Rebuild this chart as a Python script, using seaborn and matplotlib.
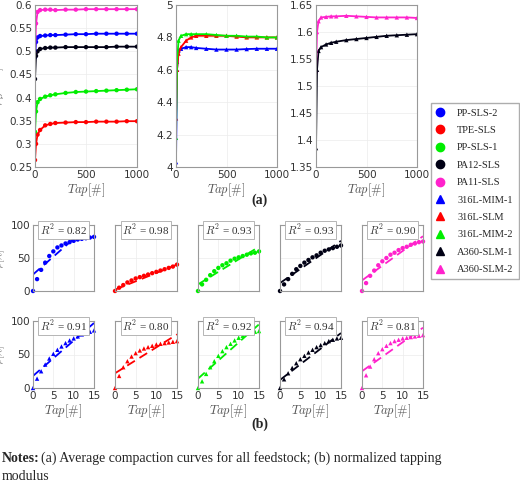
import numpy as np
import matplotlib
matplotlib.use("Agg")
import matplotlib.pyplot as plt
from matplotlib.lines import Line2D
import seaborn as sns

sns.set_style("whitegrid")
plt.rcParams["font.family"] = ["DejaVu Sans"]
plt.rcParams["mathtext.fontset"] = "cm"

BLUE, RED, GREEN, BLACK, PINK = "#0000ff", "#ff0000", "#00ee00", "#000014", "#ff22cc"

# ---------- (a) compaction curves ----------
taps = [0, 10, 25, 50, 100, 150, 200, 300, 400, 500, 600, 700, 800, 900, 1000]
pp_sls_2 = [0.487, 0.52, 0.53, 0.533, 0.534, 0.535, 0.535, 0.536, 0.537, 0.537, 0.538, 0.538, 0.538, 0.538, 0.538]
tpe_sls = [0.265, 0.30, 0.32, 0.33, 0.34, 0.343, 0.345, 0.346, 0.347, 0.347, 0.348, 0.348, 0.348, 0.349, 0.349]
pp_sls_1 = [0.326, 0.37, 0.39, 0.397, 0.402, 0.405, 0.407, 0.410, 0.412, 0.413, 0.414, 0.415, 0.416, 0.417, 0.418]
pa12_sls = [0.44, 0.49, 0.50, 0.505, 0.507, 0.508, 0.508, 0.509, 0.509, 0.509, 0.509, 0.509, 0.51, 0.51, 0.51]
pa11_sls = [0.495, 0.56, 0.585, 0.589, 0.59, 0.59, 0.589, 0.59, 0.59, 0.591, 0.591, 0.591, 0.591, 0.591, 0.591]
mim_1 = [4.03, 4.6, 4.72, 4.73, 4.74, 4.74, 4.735, 4.73, 4.725, 4.725, 4.725, 4.728, 4.73, 4.73, 4.73]
slm_316 = [4.30, 4.6, 4.7, 4.74, 4.78, 4.80, 4.81, 4.81, 4.81, 4.81, 4.805, 4.80, 4.80, 4.80, 4.80]
mim_2 = [4.18, 4.65, 4.78, 4.81, 4.82, 4.82, 4.82, 4.82, 4.815, 4.81, 4.81, 4.805, 4.805, 4.80, 4.80]
a360_1 = [1.385, 1.53, 1.565, 1.572, 1.577, 1.58, 1.582, 1.585, 1.587, 1.589, 1.591, 1.593, 1.594, 1.595, 1.596]
a360_2 = [1.528, 1.60, 1.62, 1.627, 1.628, 1.629, 1.629, 1.63, 1.629, 1.628, 1.627, 1.627, 1.627, 1.627, 1.626]

labels = ["PP-SLS-2", "TPE-SLS", "PP-SLS-1", "PA12-SLS", "PA11-SLS",
          "316L-MIM-1", "316L-SLM", "316L-MIM-2", "A360-SLM-1", "A360-SLM-2"]
colors = [BLUE, RED, GREEN, BLACK, PINK, BLUE, RED, GREEN, BLACK, PINK]
markers = ["o"] * 5 + ["^"] * 5

# ---------- (b) normalized tapping modulus ----------
nt = list(range(16))
norm = [
    [0, 18, 32, 43, 53, 60, 66, 69, 72, 74, 76, 78, 79, 80, 81, 82],
    [0, 5, 9, 13, 16, 19, 21, 23, 25, 27, 29, 31, 33, 35, 37, 40],
    [0, 10, 17, 24, 30, 35, 39, 42, 46, 49, 51, 53, 55, 57, 58, 60],
    [0, 10, 18, 26, 33, 38, 43, 47, 51, 54, 58, 61, 63, 65, 67, 69],
    [0, 12, 23, 31, 39, 45, 50, 55, 58, 62, 65, 67, 70, 72, 74, 75],
    [0, 14, 25, 35, 44, 51, 57, 62, 67, 71, 74, 77, 80, 82, 84, 86],
    [0, 18, 31, 40, 47, 52, 56, 59, 61, 63, 65, 66, 67, 68, 69, 70],
    [0, 10, 21, 31, 40, 48, 55, 61, 66, 71, 75, 78, 81, 83, 84, 85],
    [0, 13, 22, 30, 37, 43, 48, 53, 57, 61, 64, 67, 70, 72, 74, 75],
    [0, 19, 32, 43, 52, 58, 63, 67, 70, 72, 74, 75, 76, 77, 78, 79],
]
fit_start = [25, 2, 10, 12, 16, 18, 22, 14, 12, 25]
fit_end = [106, 40, 67, 76, 83, 97, 80, 95, 82, 90]
r2 = ["0.82", "0.98", "0.93", "0.93", "0.90", "0.91", "0.80", "0.92", "0.94", "0.81"]

W, H = 520, 483
fig = plt.figure(figsize=(W / 100, H / 100), dpi=100)

def px(x0, y0, x1, y1):
    return [x0 / W, 1 - y1 / H, (x1 - x0) / W, (y1 - y0) / H]

def style(ax, fs=7.5):
    ax.grid(True, color="#ececec", lw=0.5)
    for s in ax.spines.values():
        s.set_color("#999999")
        s.set_linewidth(0.8)
    ax.tick_params(labelsize=fs, colors="#333333", length=0, pad=2)

top_series = [[0, 1, 2, 3, 4], [5, 6, 7], [8, 9]]
all_top = [pp_sls_2, tpe_sls, pp_sls_1, pa12_sls, pa11_sls, mim_1, slm_316, mim_2, a360_1, a360_2]
top_ylim = [(0.25, 0.6), (4.0, 5.0), (1.35, 1.65)]
top_ticks = [np.arange(0.25, 0.61, 0.05), np.arange(4.0, 5.01, 0.2), np.arange(1.35, 1.66, 0.05)]
top_x = [(35, 137), (176, 277), (316, 417)]
for k, idx in enumerate(top_series):
    ax = fig.add_axes(px(top_x[k][0], 5, top_x[k][1], 167))
    for i in idx:
        sns.lineplot(x=taps, y=all_top[i], color=colors[i], lw=1.3, ax=ax)
        sns.scatterplot(x=taps, y=all_top[i], color=colors[i], marker=markers[i],
                        s=10, edgecolor="none", ax=ax)
    ax.set_xlim(0, 1000)
    ax.set_ylim(*top_ylim[k])
    ax.set_yticks(top_ticks[k])
    ax.set_yticklabels([f"{v:g}" for v in top_ticks[k]])
    ax.set_xticks([0, 500, 1000])
    style(ax)
    ax.set_xlabel(r"$Tap[\#]$", fontsize=9, color="#555555", labelpad=1)
    if k == 0:
        ax.set_ylabel(r"$\rho[gcm^{-3}]$", fontsize=7, color="#555555")
        ax.yaxis.set_label_coords(-0.27, 0.5)

bx = [(33, 94), (115, 177), (198, 259), (280, 341), (362, 423)]
by = [(225, 291), (321, 388)]
for i in range(10):
    r, c = divmod(i, 5)
    ax = fig.add_axes(px(bx[c][0], by[r][0], bx[c][1], by[r][1]))
    sns.lineplot(x=[0, 15], y=[fit_start[i], fit_end[i]], color=colors[i], lw=1.3, ax=ax)
    ax.lines[-1].set_linestyle((0, (5, 3)))
    sns.scatterplot(x=nt, y=norm[i], color=colors[i], marker=markers[i], s=10,
                    edgecolor="none", ax=ax, clip_on=False)
    ax.set_xlim(0, 15)
    ax.set_ylim(0, 100)
    ax.set_xticks([0, 5, 10, 15])
    ax.set_yticks([0, 50, 100])
    style(ax)
    if c == 0:
        ax.set_ylabel(r"$\tilde{\rho}[\%]$", fontsize=7, color="#555555")
        ax.yaxis.set_label_coords(-0.42, 0.5)
    else:
        ax.set_yticklabels([])
    if r == 1:
        ax.set_xlabel(r"$Tap[\#]$", fontsize=9, color="#555555", labelpad=1)
    else:
        ax.set_xticklabels([])
    ax.text(0.5, 0.93, r"$R^2$ = " + r2[i], transform=ax.transAxes, ha="center", va="center",
            fontsize=8, color="#333333", family="Liberation Serif",
            bbox=dict(facecolor="white", edgecolor="#aaaaaa", lw=0.6, pad=1.2))

handles = [Line2D([], [], ls="", marker=markers[i], color=colors[i], markersize=6) for i in range(10)]
fig.legend(handles, labels, loc="upper left", bbox_to_anchor=(431 / W, 1 - 103 / H),
           prop={"family": "Liberation Serif", "size": 7.5}, frameon=True, fancybox=False,
           edgecolor="#999999", labelspacing=0.78, handletextpad=1.2, borderpad=0.5,
           handlelength=0.8, borderaxespad=0)

fig.text(260 / W, 1 - 200 / H, "(a)", ha="center", va="center", fontsize=10,
         fontweight="bold", family="Liberation Serif")
fig.text(260 / W, 1 - 424 / H, "(b)", ha="center", va="center", fontsize=10,
         fontweight="bold", family="Liberation Serif")
fig.text(2 / W, 1 - 458 / H, "Notes:", ha="left", va="center", fontsize=10,
         fontweight="bold", family="Liberation Serif")
fig.text(41 / W, 1 - 458 / H, "(a) Average compaction curves for all feedstock; (b) normalized tapping",
         ha="left", va="center", fontsize=10, family="Liberation Serif")
fig.text(2 / W, 1 - 476 / H, "modulus", ha="left", va="center", fontsize=10,
         family="Liberation Serif")

fig.savefig("out.png", dpi=100)
